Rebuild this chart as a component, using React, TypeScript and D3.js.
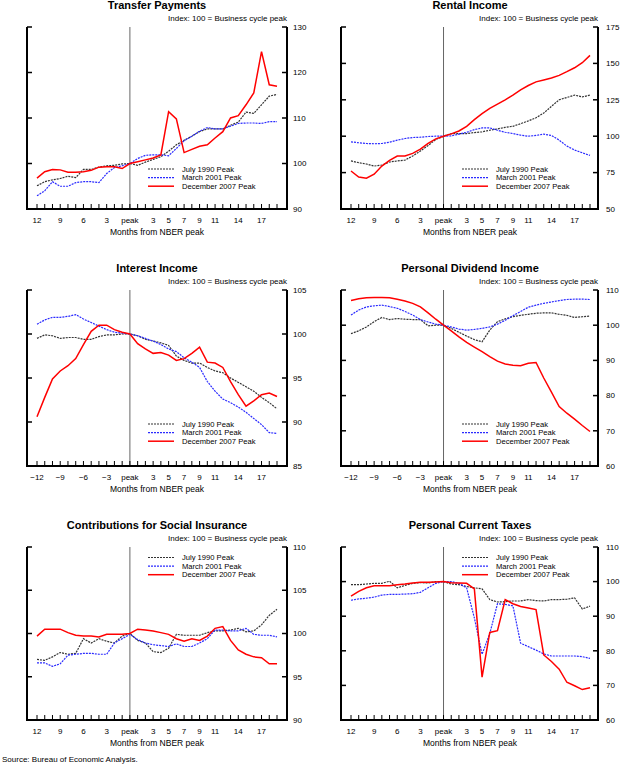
import React from 'react';
import * as d3 from 'd3';

// months relative to the NBER business cycle peak
const months = [-12, -11, -10, -9, -8, -7, -6, -5, -4, -3, -2, -1, 0, 1, 2, 3, 4, 5, 6, 7, 8, 9, 10, 11, 12, 13, 14, 15, 16, 17, 18, 19];
const tickMonths = [-12, -9, -6, -3, 0, 3, 5, 7, 9, 11, 14, 17];
const tickLabelsPlain = ['12', '9', '6', '3', 'peak', '3', '5', '7', '9', '11', '14', '17'];
const tickLabelsMinus = ['\u221212', '\u22129', '\u22126', '\u22123', 'peak', '3', '5', '7', '9', '11', '14', '17'];

const seriesNames = ['July 1990 Peak', 'March 2001 Peak', 'December 2007 Peak'];
const seriesColors = ['#333333', '#2b2bff', '#ff0000'];

// Transfer Payments
const transferJul1990 = [95.1, 96.0, 96.4, 96.7, 97.2, 96.9, 98.7, 98.7, 99.2, 99.5, 99.6, 99.9, 100, 99.6, 100.3, 100.9, 101.5, 102.7, 104.1, 105.1, 106.0, 107.0, 107.6, 107.6, 107.6, 108.4, 109.1, 111.3, 111.0, 112.9, 114.8, 115.2];
const transferMar2001 = [92.9, 94.0, 96.0, 95.0, 95.0, 95.8, 96.0, 96.0, 95.8, 97.8, 99.1, 99.5, 100, 101.1, 101.8, 101.9, 101.9, 101.7, 103.3, 105.0, 106.0, 107.1, 107.9, 107.6, 107.6, 108.2, 108.8, 108.9, 108.9, 108.8, 109.2, 109.2];
const transferDec2007 = [96.8, 98.2, 98.7, 98.6, 98.1, 98.1, 98.2, 98.5, 99.2, 99.3, 99.3, 98.9, 100, 100.4, 100.8, 101.2, 101.9, 111.4, 109.8, 102.4, 103.1, 103.8, 104.1, 105.6, 107.0, 110.0, 110.5, 112.9, 115.5, 124.6, 117.3, 117.0];

// Rental Income
const rentalJul1990 = [83.0, 81.8, 80.9, 79.5, 80.2, 82.3, 83.0, 83.6, 86.4, 89.8, 93.6, 97.7, 100, 101.8, 101.8, 101.8, 102.5, 103.0, 104.1, 105.0, 106.1, 106.8, 108.6, 110.5, 112.7, 115.9, 120.5, 125.0, 126.6, 128.2, 127.0, 128.2];
const rentalMar2001 = [96.1, 95.5, 95.0, 94.8, 95.0, 95.9, 97.3, 98.4, 99.1, 99.3, 99.8, 100, 100, 100.2, 101.4, 102.7, 104.5, 105.7, 105.7, 104.1, 102.7, 101.8, 100.7, 100, 100.5, 101.4, 100.5, 97.3, 93.2, 90.5, 88.6, 86.8];
const rentalDec2007 = [76.1, 72.0, 71.1, 73.9, 79.5, 83.4, 86.4, 86.4, 88.2, 91.1, 95.0, 98.2, 100, 101.6, 103.6, 106.8, 111.4, 115.5, 119.1, 122.0, 125.0, 128.2, 131.8, 134.8, 137.3, 138.6, 140.0, 141.8, 144.3, 147.0, 150.5, 155.5];

// Interest Income
const interestJul1990 = [99.5, 99.9, 99.8, 99.5, 99.6, 99.6, 99.4, 99.4, 99.7, 99.9, 99.9, 100, 100, 99.8, 99.4, 99.2, 99.0, 98.7, 97.5, 97.0, 96.7, 96.7, 96.2, 95.8, 95.6, 95.0, 94.5, 94.0, 93.5, 92.8, 92.2, 91.5];
const interestMar2001 = [101.1, 101.6, 101.9, 101.9, 102.0, 102.2, 101.7, 101.3, 100.9, 100.5, 100.2, 100.1, 100, 99.8, 99.5, 99.2, 98.8, 98.3, 98.0, 97.3, 96.8, 96.2, 94.6, 93.5, 92.6, 92.2, 91.7, 91.1, 90.4, 89.7, 88.8, 88.7];
const interestDec2007 = [90.6, 92.8, 94.9, 95.8, 96.4, 97.2, 98.8, 100.3, 101.0, 101.0, 100.5, 100.2, 100, 98.9, 98.3, 97.8, 97.9, 97.6, 97.0, 97.2, 97.8, 98.5, 96.8, 96.7, 96.2, 94.6, 93.1, 91.8, 92.4, 93.1, 93.3, 92.9];

// Personal Dividend Income
const dividendJul1990 = [97.6, 98.4, 99.5, 101.0, 102.2, 101.6, 101.9, 101.7, 101.6, 101.6, 99.8, 100, 100, 99.1, 98.0, 96.9, 95.9, 95.3, 98.6, 101.0, 101.8, 102.4, 102.8, 103.1, 103.4, 103.5, 103.5, 103.1, 102.8, 102.2, 102.4, 102.6];
const dividendMar2001 = [102.9, 104.3, 105.2, 105.5, 105.7, 105.3, 104.8, 103.9, 102.9, 101.6, 100.9, 100.3, 100, 99.5, 98.9, 98.6, 98.8, 99.1, 99.5, 100.3, 101.4, 102.7, 103.9, 105.1, 105.7, 106.2, 106.6, 107.0, 107.3, 107.4, 107.4, 107.3];
const dividendDec2007 = [107.0, 107.5, 107.8, 107.9, 107.9, 107.8, 107.4, 106.9, 106.2, 105.2, 103.5, 101.7, 100, 98.4, 96.7, 95.1, 93.8, 92.5, 91.1, 89.8, 89.0, 88.6, 88.5, 89.2, 89.4, 85.0, 81.0, 76.9, 75.0, 73.3, 71.5, 69.8];

// Contributions for Social Insurance
const contribJul1990 = [97.0, 96.9, 97.3, 97.8, 97.6, 97.7, 99.4, 98.9, 99.4, 99.1, 98.9, 99.7, 100, 99.2, 98.9, 97.9, 97.8, 98.3, 99.9, 99.8, 99.8, 99.8, 100.1, 100.3, 100.3, 100.4, 100.6, 100.2, 100.3, 101.0, 102.1, 102.8];
const contribMar2001 = [96.6, 96.6, 96.2, 96.5, 97.5, 97.6, 97.7, 97.7, 97.6, 97.6, 98.9, 99.4, 99.9, 99.3, 98.9, 98.7, 98.6, 98.5, 98.8, 98.5, 98.5, 98.9, 99.4, 100.4, 100.4, 100.3, 100.3, 100.6, 99.9, 99.8, 99.8, 99.6];
const contribDec2007 = [99.7, 100.5, 100.5, 100.5, 100.1, 99.8, 99.7, 99.7, 99.6, 99.9, 99.9, 99.9, 100, 100.5, 100.4, 100.3, 100.1, 99.9, 99.4, 99.1, 99.4, 99.2, 99.7, 100.6, 100.8, 99.2, 98.1, 97.6, 97.3, 97.2, 96.5, 96.5];

// Personal Current Taxes
const taxesJul1990 = [99.1, 99.1, 99.3, 99.5, 99.5, 100.1, 98.2, 98.9, 99.5, 99.7, 99.6, 100, 100, 99.3, 99.1, 98.6, 98.2, 97.9, 94.8, 94.1, 94.2, 94.4, 94.4, 94.8, 94.5, 94.4, 94.8, 94.8, 94.9, 95.3, 92.1, 92.9];
const taxesMar2001 = [94.6, 95.0, 95.2, 95.5, 96.1, 96.3, 96.3, 96.4, 96.5, 96.9, 98.2, 99.5, 100, 100, 99.5, 98.2, 89.5, 79.0, 85.0, 93.6, 93.4, 93.0, 82.2, 81.2, 80.2, 79.1, 78.5, 78.5, 78.5, 78.5, 78.3, 77.8];
const taxesDec2007 = [95.8, 97.2, 98.2, 98.8, 98.8, 98.8, 99.1, 99.3, 99.6, 99.8, 99.8, 99.9, 100, 99.7, 99.6, 99.5, 97.9, 72.4, 85.3, 85.8, 94.8, 93.6, 92.8, 92.4, 91.9, 78.8, 76.9, 74.7, 70.9, 69.9, 68.8, 69.3];

const FONT = '"Liberation Sans", Arial, Helvetica, sans-serif';
const LEGEND_STEP = 8.6;

const columns = [
    { plotLeft: 27, plotRight: 287, xStart: 37, xEnd: 277, center: 157, labelX: 293, legendX: 148 },
    { plotLeft: 341, plotRight: 598, xStart: 351, xEnd: 590, center: 470, labelX: 606, legendX: 462 },
];
const rows = [
    { top: 27, bottom: 209, legendY: 169 },
    { top: 290, bottom: 466, legendY: 424 },
    { top: 547, bottom: 720, legendY: 557.5 },
];

interface PanelProps {
    title: string;
    col: number;
    row: number;
    yTicks: number[];
    series: number[][];
    minusLabels?: boolean;
}

const Panel: React.FC<PanelProps> = ({ title, col, row, yTicks, series, minusLabels }) => {
    const c = columns[col];
    const r = rows[row];
    const x = d3.scaleLinear().domain([-12, 19]).range([c.xStart, c.xEnd]);
    const y = d3
        .scaleLinear()
        .domain([yTicks[0], yTicks[yTicks.length - 1]])
        .range([r.bottom, r.top]);
    const line = d3
        .line<number>()
        .x((_, i) => x(months[i]))
        .y((d) => y(d));
    const labels = minusLabels ? tickLabelsMinus : tickLabelsPlain;

    return (
        <g fontFamily={FONT}>
            <text x={c.center} y={r.top - 18} textAnchor="middle" fontSize={11} fontWeight="bold">
                {title}
            </text>
            <text x={c.plotRight} y={r.top - 6} textAnchor="end" fontSize={8}>
                Index: 100 = Business cycle peak
            </text>

            {/* peak marker */}
            <line x1={x(0)} x2={x(0)} y1={r.top} y2={r.bottom} stroke="#666" strokeWidth={1} />

            {/* series */}
            {series.map((s, i) => (
                <path
                    key={i}
                    d={line(s) ?? ''}
                    fill="none"
                    stroke={seriesColors[i]}
                    strokeWidth={i === 2 ? 1.5 : 1.2}
                    strokeDasharray={i === 2 ? undefined : '2,1'}
                />
            ))}

            {/* frame */}
            <line x1={c.plotLeft} x2={c.plotLeft} y1={r.top} y2={r.bottom} stroke="#000" strokeWidth={2} />
            <line x1={c.plotRight} x2={c.plotRight} y1={r.top} y2={r.bottom} stroke="#000" strokeWidth={2} />
            <line x1={c.plotLeft - 1} x2={c.plotRight + 1} y1={r.bottom} y2={r.bottom} stroke="#000" strokeWidth={2} />

            {yTicks.slice(1).map((t) => (
                <g key={t}>
                    <line x1={c.plotLeft} x2={c.plotLeft + 5} y1={y(t)} y2={y(t)} stroke="#000" strokeWidth={1.5} />
                    <line x1={c.plotRight - 5} x2={c.plotRight} y1={y(t)} y2={y(t)} stroke="#000" strokeWidth={1.5} />
                </g>
            ))}
            {yTicks.map((t) => (
                <text key={t} x={c.labelX} y={y(t)} dy="0.35em" fontSize={8}>
                    {t}
                </text>
            ))}

            {months.map((m) => (
                <line key={m} x1={x(m)} x2={x(m)} y1={r.bottom - 5} y2={r.bottom} stroke="#000" strokeWidth={1} />
            ))}
            {tickMonths.map((m, i) => (
                <text key={m} x={x(m)} y={r.bottom + 14} textAnchor="middle" fontSize={8}>
                    {labels[i]}
                </text>
            ))}
            <text x={c.center} y={r.bottom + 26} textAnchor="middle" fontSize={8.5}>
                Months from NBER peak
            </text>

            {/* legend */}
            {seriesNames.map((name, i) => (
                <g key={name}>
                    <line
                        x1={c.legendX}
                        x2={c.legendX + 26}
                        y1={r.legendY + i * LEGEND_STEP}
                        y2={r.legendY + i * LEGEND_STEP}
                        stroke={seriesColors[i]}
                        strokeWidth={i === 2 ? 1.5 : 1.2}
                        strokeDasharray={i === 2 ? undefined : '2,1'}
                    />
                    <text x={c.legendX + 34} y={r.legendY + i * LEGEND_STEP} dy="0.35em" fontSize={7.6}>
                        {name}
                    </text>
                </g>
            ))}
        </g>
    );
};

const App: React.FC = () => {
    return (
        <svg
            width={621}
            height={765}
            style={{ position: 'absolute', left: 0, top: 0, background: '#fff' }}
        >
            <Panel title="Transfer Payments" col={0} row={0} yTicks={[90, 100, 110, 120, 130]} series={[transferJul1990, transferMar2001, transferDec2007]} />
            <Panel title="Rental Income" col={1} row={0} yTicks={[50, 75, 100, 125, 150, 175]} series={[rentalJul1990, rentalMar2001, rentalDec2007]} />
            <Panel title="Interest Income" col={0} row={1} yTicks={[85, 90, 95, 100, 105]} series={[interestJul1990, interestMar2001, interestDec2007]} minusLabels />
            <Panel title="Personal Dividend Income" col={1} row={1} yTicks={[60, 70, 80, 90, 100, 110]} series={[dividendJul1990, dividendMar2001, dividendDec2007]} minusLabels />
            <Panel title="Contributions for Social Insurance" col={0} row={2} yTicks={[90, 95, 100, 105, 110]} series={[contribJul1990, contribMar2001, contribDec2007]} />
            <Panel title="Personal Current Taxes" col={1} row={2} yTicks={[60, 70, 80, 90, 100, 110]} series={[taxesJul1990, taxesMar2001, taxesDec2007]} />
            <text x={2} y={762} fontFamily={FONT} fontSize={8}>
                Source: Bureau of Economic Analysis.
            </text>
        </svg>
    );
};

export default App;
